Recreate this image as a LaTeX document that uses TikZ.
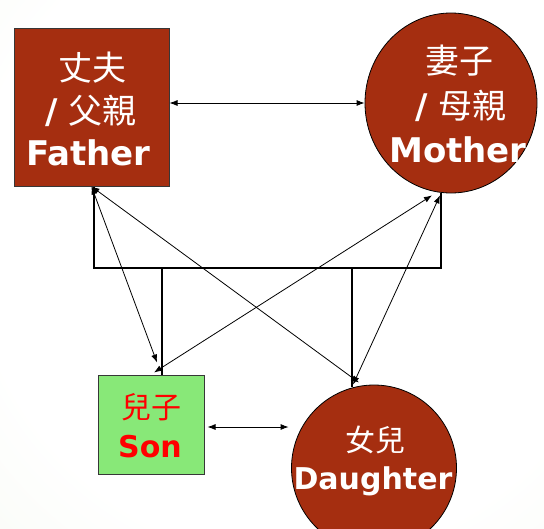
\documentclass[tikz,border=0pt]{standalone}
\usepackage{fontspec}
\setmainfont{DejaVu Sans}
\newfontfamily\cjk{Noto Sans CJK TC}
\usetikzlibrary{shapes.geometric,arrows.meta,calc}
\definecolor{rust}{RGB}{165,46,16}
\definecolor{sonbg}{RGB}{136,232,120}
\definecolor{bgedge}{RGB}{230,239,218}
\definecolor{boxline}{RGB}{55,55,55}
\pgfdeclareradialshading{bgshade}{\pgfpoint{0bp}{0bp}}{color(0bp)=(white); color(18bp)=(white); color(50bp)=(bgedge)}
\newcommand{\bigfont}{\fontsize{34}{36}\selectfont}
\newcommand{\midfont}{\fontsize{30}{32}\selectfont}
\tikzset{
  rbox/.style={draw=boxline, line width=1pt, inner sep=0pt, rectangle},
  oval/.style={draw=black, line width=0.8pt, inner sep=0pt, ellipse, fill=rust},
  wtxt/.style={text=white, inner sep=0pt, anchor=base},
  rtxt/.style={text=red, inner sep=0pt, anchor=base},
  rel/.style={line width=0.8pt, {Latex[length=8pt,width=6pt]}-{Latex[length=8pt,width=6pt]}},
  bracket/.style={line width=2pt, black}
}
\begin{document}
\begin{tikzpicture}[x=1pt,y=-1pt]
\useasboundingbox (0,0) rectangle (544,528);
\begin{scope}
\clip (0,0) rectangle (544,528);
\shade[shading=bgshade] (-150,-220) rectangle (750,680);
% shapes
\node[rbox, fill=rust, minimum width=155pt, minimum height=158pt] (F) at (91.5,107) {};
\node[oval, minimum width=172pt, minimum height=180pt] (M) at (451,103) {};
\node[rbox, fill=sonbg, minimum width=106pt, minimum height=99pt] (S) at (151,424.5) {};
\node[oval, minimum width=165pt, minimum height=166pt] (D) at (374,468) {};
% texts
\node[wtxt, font=\cjk\bigfont] (F1) at (92,80) {丈夫};
\node[wtxt, font=\bigfont] (F2) at (91,123) {\bfseries /\hspace{10pt}\cjk\mdseries 父親};
\node[wtxt, font=\bigfont\bfseries] (F3) at (88.5,165) {Father};
\node[wtxt, font=\cjk\bigfont] (M1) at (459,73) {妻子};
\node[wtxt, font=\bigfont] (M2) at (461,118) {\bfseries /\hspace{10pt}\cjk\mdseries 母親};
\node[wtxt, font=\bigfont\bfseries] (M3) at (458,162) {Mother};
\node[rtxt, font=\cjk\midfont] (S1) at (151,418) {兒子};
\node[rtxt, font=\midfont\bfseries] (S2) at (150,457) {Son};
\node[wtxt, font=\cjk\midfont] (D1) at (375,451) {女兒};
\node[wtxt, font=\midfont\bfseries] (D2) at (373,489) {Daughter};
% bracket
\coordinate (bar) at (0,268);
\coordinate (fb) at ($(F.south)+(2,0)$);
\coordinate (mb) at ($(M.south)+(-10,0)$);
\coordinate (sb) at ($(S.north)+(11,0)$);
\coordinate (db) at ($(D.north)+(-22,2)$);
\draw[bracket] (fb) |- (bar -| mb) -- (mb);
\draw[bracket] (sb) -- (sb |- bar);
\draw[bracket] (db) -- (db |- bar);
% relation arrows
\draw[rel] (F.east |- M.west) -- (M.west);
\coordinate (sd) at ($(S.east)+(3,2.5)$);
\draw[rel, shorten >=2.5pt] (sd) -- (sd -| D.west);
\coordinate (fs) at (F.south);
\coordinate (ms1) at ($(M.south)+(-19,2)$);
\coordinate (ms2) at ($(M.south)+(-11,2)$);
\coordinate (st1) at ($(S.north)+(6,-12)$);
\coordinate (st2) at ($(S.north)+(3,-2)$);
\coordinate (dt1) at ($(D.north)+(-15,-2)$);
\coordinate (dt2) at ($(D.north)+(-21,0)$);
\draw[rel] (fs) -- (st1);
\draw[rel] (fs) -- (dt1);
\draw[rel] (ms1) -- (st2);
\draw[rel] (ms2) -- (dt2);
\end{scope}
\end{tikzpicture}
\end{document}
